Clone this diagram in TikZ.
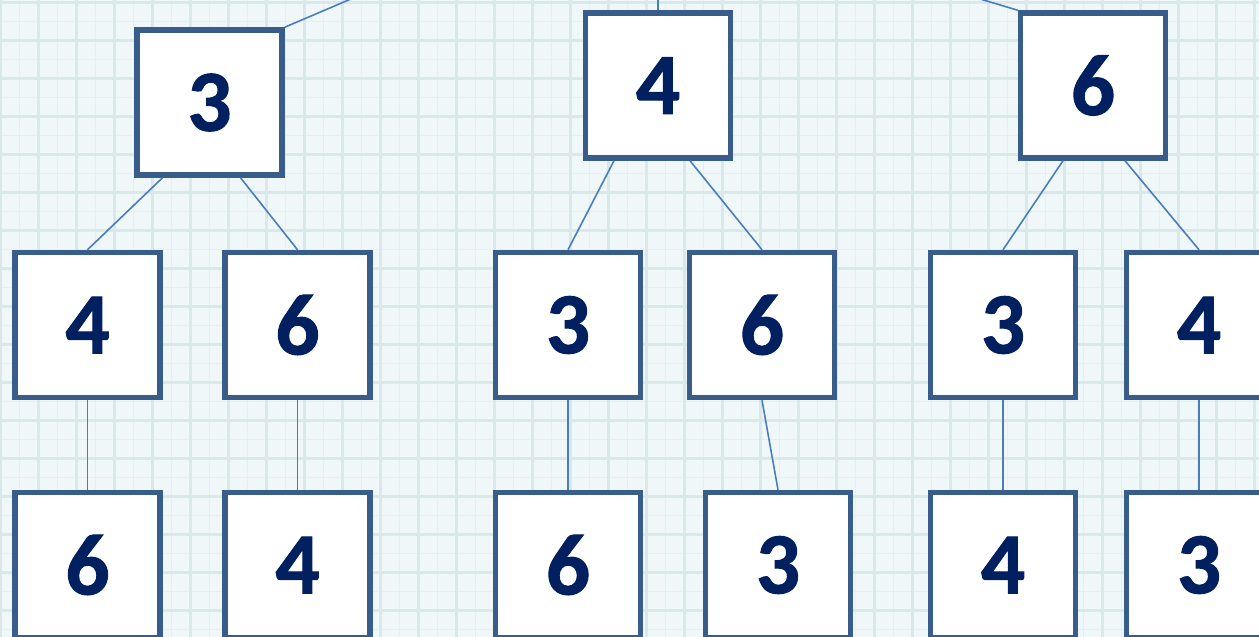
\documentclass[tikz,border=0pt]{standalone}
\usepackage{fontspec}
\setmainfont{Carlito}[BoldFont={Carlito Bold}]
\newfontfamily\digitfont{Carlito Bold}[FakeBold=1.2]
\definecolor{bgc}{HTML}{F0F7F9}
\definecolor{gridminor}{HTML}{E5F0F2}
\definecolor{gridmajor}{HTML}{D9E8EB}
\definecolor{boxline}{HTML}{385D8A}
\definecolor{digit}{HTML}{002060}
\definecolor{conn}{HTML}{4A7EBB}
\tikzset{
  numbox/.style={draw=boxline, line width=5.5pt, fill=white, minimum width=145pt, minimum height=145pt, inner sep=0pt, text=digit, font=\digitfont\fontsize{87}{87}\selectfont},
  connector/.style={draw=conn, line width=1.6pt}
}
\begin{document}
\begin{tikzpicture}[x=1pt,y=-1pt]
\useasboundingbox (0,0) rectangle (1259,637);
\begin{scope}
\clip (0,0) rectangle (1259,637);
\fill[bgc] (0,0) rectangle (1259,637);
\foreach \x in {19,57,...,1260} \draw[gridminor, line width=1pt] (\x,0) -- (\x,637);
\foreach \y in {21,59,...,640} \draw[gridminor, line width=1pt] (0,\y) -- (1259,\y);
\foreach \x in {0,38,...,1260} \draw[gridmajor, line width=3pt] (\x,0) -- (\x,637);
\foreach \y in {2,40,...,640} \draw[gridmajor, line width=3pt] (0,\y) -- (1259,\y);

% off-picture parent ends
\coordinate (r1) at (407,-25);
\coordinate (r2) at (658,-25);
\coordinate (r3) at (900,-25);

% top row
\node[numbox] (t3) at (209.5,102.5) {\raisebox{-3pt}{3}};
\node[numbox] (t4) at (658,85.5) {\raisebox{-3pt}{4}};
\node[numbox] (t6) at (1093,85.5) {\raisebox{-3pt}{6}};

% middle row
\node[numbox] (m1) at (87.5,325) {\raisebox{-3pt}{4}};
\node[numbox] (m2) at (297.5,325) {\raisebox{-3pt}{6}};
\node[numbox] (m3) at (568,325) {\raisebox{-3pt}{3}};
\node[numbox] (m4) at (762,325) {\raisebox{-3pt}{6}};
\node[numbox] (m5) at (1003,325) {\raisebox{-3pt}{3}};
\node[numbox] (m6) at (1199,325) {\raisebox{-3pt}{4}};

% bottom row
\node[numbox] (b1) at (87.5,565) {\raisebox{-3pt}{6}};
\node[numbox] (b2) at (297.5,565) {\raisebox{-3pt}{4}};
\node[numbox] (b3) at (568,565) {\raisebox{-3pt}{6}};
\node[numbox] (b4) at (778,565) {\raisebox{-3pt}{3}};
\node[numbox] (b5) at (1003,565) {\raisebox{-3pt}{4}};
\node[numbox] (b6) at (1199,565) {\raisebox{-3pt}{3}};

% connectors
\draw[connector] (r1) -- (t3.north east);
\draw[connector] (r2) -- (t4.north);
\draw[connector] (r3) -- (t6.north west);

\draw[connector] ([xshift=-47pt]t3.south) -- (m1.north);
\draw[connector] ([xshift=31pt]t3.south) -- (m2.north);
\draw[connector] ([xshift=-44pt]t4.south) -- (m3.north);
\draw[connector] ([xshift=32pt]t4.south) -- (m4.north);
\draw[connector] ([xshift=-30pt]t6.south) -- (m5.north);
\draw[connector] ([xshift=32pt]t6.south) -- (m6.north);

\draw[connector] (m1.south) -- (b1.north);
\draw[connector] (m2.south) -- (b2.north);
\draw[connector] (m3.south) -- (b3.north);
\draw[connector] (m4.south) -- (b4.north);
\draw[connector] (m5.south) -- (b5.north);
\draw[connector] (m6.south) -- (b6.north);
\end{scope}
\end{tikzpicture}
\end{document}
